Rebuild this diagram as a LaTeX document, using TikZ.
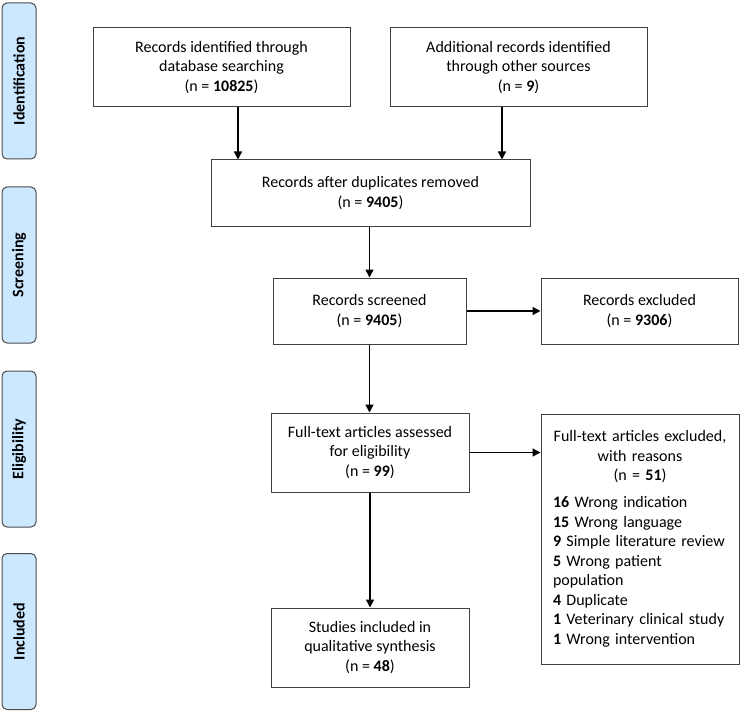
\documentclass[tikz,border=0pt]{standalone}
\usepackage{fontspec}
\setmainfont{Carlito}
\usetikzlibrary{arrows.meta}
\begin{document}
\begin{tikzpicture}[x=1pt,y=-1pt,
  box/.style={draw=black!75,line width=1pt,fill=white,align=center,font=\fontsize{16}{19.5}\selectfont,inner sep=0pt},
  phase/.style={draw=black!70,line width=1pt,fill=phasefill,rounded corners=5pt,rotate=90,
    minimum width=156pt,minimum height=34pt,inner sep=0pt,font=\fontsize{16}{19}\selectfont\bfseries},
  arr/.style={draw=black,line width=1.4pt,-{Triangle[length=8pt,width=8pt]}}]
\definecolor{phasefill}{RGB}{204,232,255}
\useasboundingbox (0,0) rectangle (741,714);
% phase bars
\node[phase] (p1) at (19,81) {Identification};
\node[phase] (p2) at (19,265) {Screening};
\node[phase] (p3) at (19,449) {Eligibility};
\node[phase] (p4) at (19,631.5) {Included};
% boxes
\node[box,minimum width=257pt,minimum height=79pt] (b1) at (221.5,67.5)
  {Records identified through\\database searching\\(n = \textbf{10825})};
\node[box,minimum width=257pt,minimum height=79pt] (b2) at (518.5,67.5)
  {Additional records identified\\through other sources\\(n = \textbf{9})};
\node[box,minimum width=319pt,minimum height=66pt] (b3) at (370.5,193)
  {Records after duplicates removed\\(n = \textbf{9405})};
\node[box,minimum width=193pt,minimum height=66pt] (b4) at (369.5,311)
  {Records screened\\(n = \textbf{9405})};
\node[box,minimum width=197pt,minimum height=66pt] (b5) at (639.5,311)
  {Records excluded\\(n = \textbf{9306})};
\node[box,minimum width=198pt,minimum height=79pt] (b6) at (370,452.5)
  {Full-text articles assessed\\for eligibility\\(n = \textbf{99})};
\node[box,minimum width=198pt,minimum height=79pt] (b7) at (370,647.5)
  {Studies included in\\qualitative synthesis\\(n = \textbf{48})};
\node[box,minimum width=198pt,minimum height=250pt,text width=174pt,align=left] (b8) at (640,539)
  {\centering Full-text articles excluded,\\with reasons\\(n = \textbf{51})\par\vspace{7.5pt}\raggedright
   \textbf{16} Wrong indication\\
   \textbf{15} Wrong language\\
   \textbf{9} Simple literature review\\
   \textbf{5} Wrong patient\\
   population\\
   \textbf{4} Duplicate\\
   \textbf{1} Veterinary clinical study\\
   \textbf{1} Wrong intervention\par};
% arrows
\draw[arr] ([xshift=16.5pt]b1.south) -- ([xshift=16.5pt]b1.south |- b3.north);
\draw[arr] ([xshift=-16.5pt]b2.south) -- ([xshift=-16.5pt]b2.south |- b3.north);
\draw[arr] (b3.south -| b4.north) -- (b4.north);
\draw[arr] (b4.east) -- (b4.east -| b5.west);
\draw[arr] (b4.south) -- (b4.south |- b6.north);
\draw[arr] (b6.east) -- (b6.east -| b8.west);
\draw[arr] (b6.south) -- (b7.north);
\end{tikzpicture}
\end{document}
